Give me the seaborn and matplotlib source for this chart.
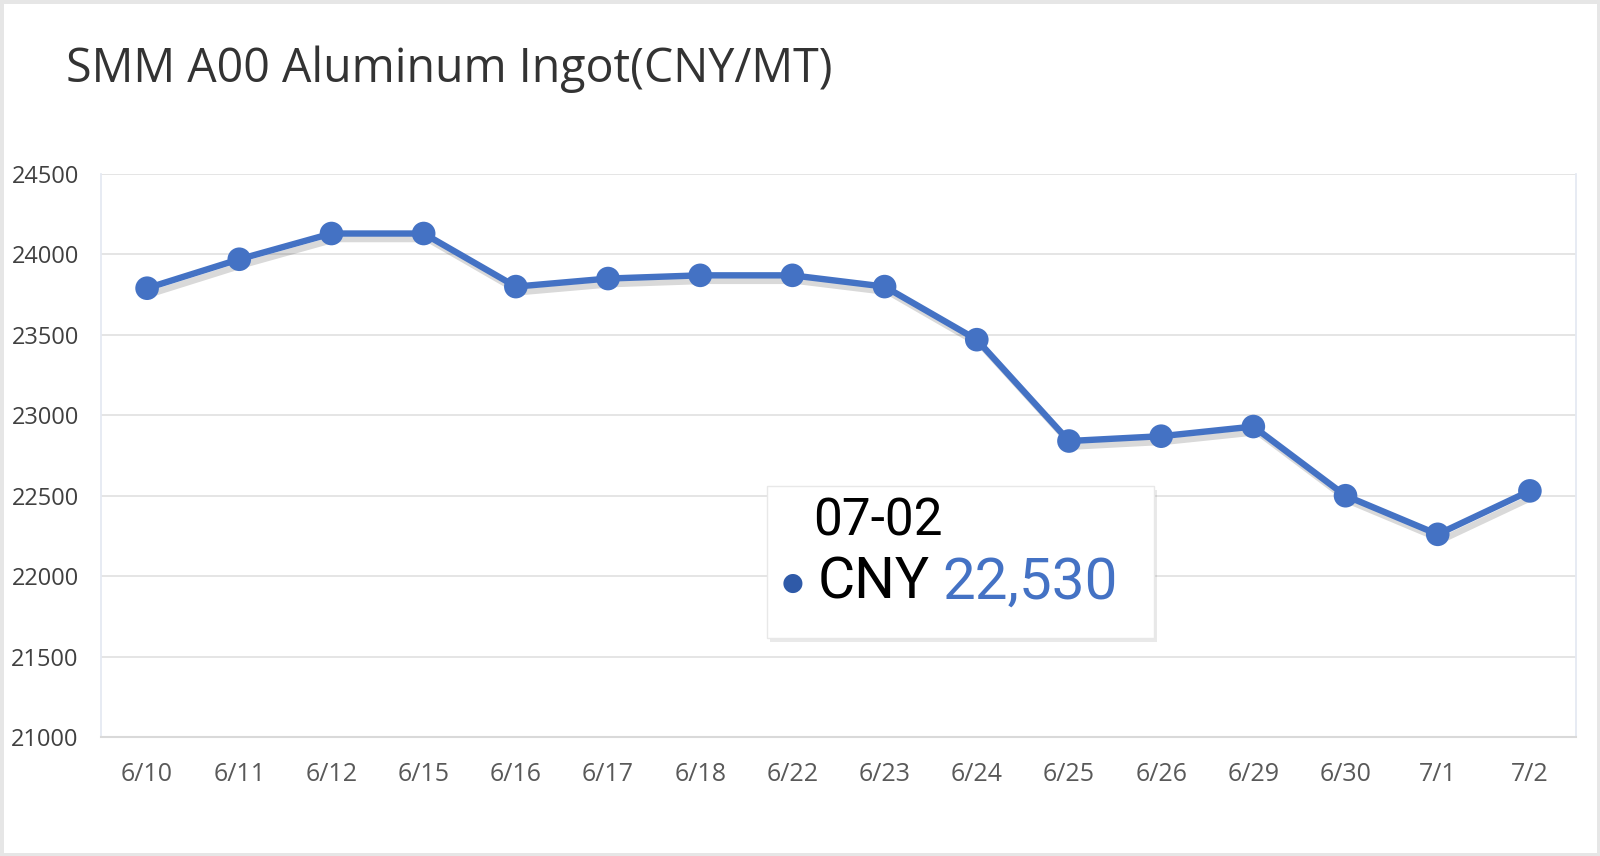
import matplotlib
matplotlib.use("Agg")
import matplotlib.pyplot as plt
import matplotlib.patheffects as pe
from matplotlib.patches import Rectangle
import seaborn as sns
import pandas as pd

dates = ["6/10", "6/11", "6/12", "6/15", "6/16", "6/17", "6/18", "6/22",
         "6/23", "6/24", "6/25", "6/26", "6/29", "6/30", "7/1", "7/2"]
prices = [23790, 23970, 24130, 24130, 23800, 23850, 23870, 23870,
          23800, 23470, 22840, 22870, 22930, 22500, 22260, 22530]
yticks = [21000, 21500, 22000, 22500, 23000, 23500, 24000, 24500]
tooltip_date = "07-02"

blue = "#4472C4"

sns.set_theme(style="white")
plt.rcParams["font.family"] = ["Open Sans", "DejaVu Sans"]

df = pd.DataFrame({"date": dates, "price": prices})

fig = plt.figure(figsize=(16, 8.56), dpi=100)
fig.patch.set_facecolor("white")
fig.patch.set_edgecolor("#e6e6e6")
fig.patch.set_linewidth(5)

ax = fig.add_axes([101 / 1600, 1 - 737 / 856, (1576 - 101) / 1600, (737 - 174) / 856])

# soft drop shadow under the series, like the original
shadow = [pe.SimpleLineShadow(offset=(3, -4), shadow_color="black", alpha=0.15, rho=0.3), pe.Normal()]
sns.lineplot(data=df, x="date", y="price", sort=False, ax=ax, color=blue,
             linewidth=4.6, marker="o", markersize=17, markeredgewidth=0,
             path_effects=shadow)

ax.set_xlim(-0.5, len(dates) - 0.5)
ax.set_ylim(yticks[0], yticks[-1])
ax.set_yticks(yticks)
ax.set_yticklabels([str(v) for v in yticks], fontsize=17, color="#404040")
ax.set_xticks(range(len(dates)))
ax.set_xticklabels(dates, fontsize=18, color="#595959")
ax.tick_params(axis="x", which="major", length=0, pad=18)
ax.tick_params(axis="y", which="major", length=0, pad=16)
ax.set_xticks([i - 0.5 for i in range(len(dates) + 1)], minor=True)
ax.tick_params(axis="x", which="minor", length=10, width=1.5, color="#d9d9d9")
ax.set_xlabel("")
ax.set_ylabel("")

ax.grid(axis="y", color="#e3e3e3", linewidth=1.3)
ax.set_axisbelow(True)
ax.spines["top"].set_visible(False)
ax.spines["right"].set_color("#e4e9f2")
ax.spines["left"].set_color("#e4e9f2")
ax.spines["bottom"].set_color("#d9d9d9")
ax.spines["bottom"].set_linewidth(1.5)

fig.text(66 / 1600, 1 - 69 / 856, "SMM A00 Aluminum Ingot(CNY/MT)", fontsize=33.5,
         color="#333333", va="center", ha="left", fontweight="medium")

# tooltip box
box = Rectangle((767 / 1600, 1 - 638 / 856), (1154 - 767) / 1600, (638 - 486) / 856,
                transform=fig.transFigure, facecolor="white", edgecolor="#e8e8e8",
                linewidth=1, zorder=10,
                path_effects=[pe.SimplePatchShadow(offset=(2, -3), alpha=0.12), pe.Normal()])
fig.add_artist(box)
tip_font = ["Roboto", "DejaVu Sans"]
fig.text(813 / 1600, 1 - 522 / 856, tooltip_date, fontsize=37, color="black",
         va="center", ha="left", family=tip_font, zorder=11)
fig.text(793 / 1600, 1 - 583 / 856, "\u25CF", fontsize=18, color="#2f5aa8",
         va="center", ha="center", family=tip_font, zorder=11)
fig.text(818 / 1600, 1 - 583 / 856, "CNY", fontsize=41, color="black",
         va="center", ha="left", family=tip_font, zorder=11)
fig.text(942 / 1600, 1 - 583 / 856, f"{prices[-1]:,}", fontsize=42, color=blue,
         va="center", ha="left", family=tip_font, zorder=11)

fig.savefig("out.png", dpi=100, facecolor=fig.get_facecolor(), edgecolor=fig.get_edgecolor())
